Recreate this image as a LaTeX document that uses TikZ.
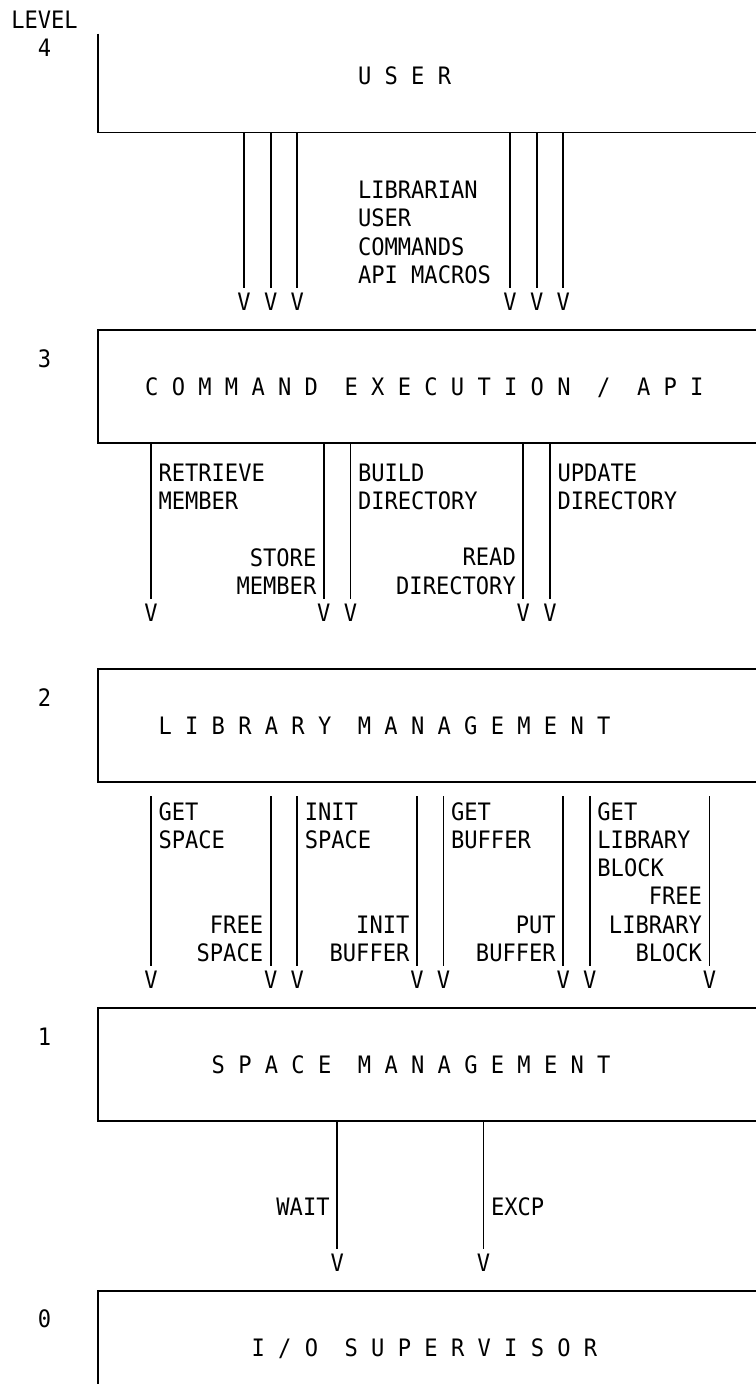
\documentclass[tikz,border=0pt]{standalone}
\usepackage{fontspec}
\setmonofont{DejaVu Sans Mono}[FakeStretch=0.92]
\usepackage{tikz}

\tikzset{
    lvl/.style={inner sep=0pt, anchor=base},
    boxtitle/.style={inner sep=0pt, anchor=base west},
    lbl/.style={inner sep=0pt, align=left, anchor=north west},
    rlbl/.style={inner sep=0pt, align=right, anchor=north east},
    vtip/.style={inner sep=0pt, outer sep=2.6pt, anchor=base},
}

\begin{document}
\begin{tikzpicture}[x=6.65pt, y=-14.125pt, line width=0.9pt,
    font=\ttfamily\fontsize{12pt}{14.125pt}\selectfont]
    \useasboundingbox (-0.35,-0.69) rectangle (56.49,48.3);

    % level numbers
    \node[lvl] (level) at (3,0.31) {LEVEL};
    \node[lvl] (lvl4) at (3,1.31) {4};
    \node[lvl] (lvl3) at (3,12.31) {3};
    \node[lvl] (lvl2) at (3,24.31) {2};
    \node[lvl] (lvl1) at (3,36.31) {1};
    \node[lvl] (lvl0) at (3,46.31) {0};

    % level 4
    \draw (7,0.5) |- (56.49,4);
    \node[boxtitle] (user) at (26.5,2.31) {U S E R};
    \coordinate (b4) at (7,4);
    \foreach \n/\c in {u1/18,u2/20,u3/22,u4/38,u5/40,u6/42} {
        \node[vtip] (\n) at (\c,10.31) {V};
        \draw (b4 -| \n) -- (\n);
    }
    \node[lbl] (librarian) at (26.5,5.69) {LIBRARIAN\\USER\\COMMANDS\\API MACROS};

    % level 3
    \draw (56.49,11) -| (7,15) -- (56.49,15);
    \node[boxtitle] (cmd) at (10.5,13.31)
        {C O M M A N D~~E X E C U T I O N~~/~~A P I};
    \coordinate (b3) at (7,15);
    \foreach \n/\c in {c1/11,c2/24,c3/26,c4/39,c5/41} {
        \node[vtip] (\n) at (\c,21.31) {V};
        \draw (b3 -| \n) -- (\n);
    }
    \node[lbl] (retrieve) at (11.5,15.69) {RETRIEVE\\MEMBER};
    \node[rlbl] (store) at (23.5,18.69) {STORE\\MEMBER};
    \node[lbl] (build) at (26.5,15.69) {BUILD\\DIRECTORY};
    \node[rlbl] (read) at (38.5,18.69) {READ\\DIRECTORY};
    \node[lbl] (update) at (41.5,15.69) {UPDATE\\DIRECTORY};

    % level 2
    \draw (56.49,23) -| (7,27) -- (56.49,27);
    \node[boxtitle] (lib) at (11.5,25.31)
        {L I B R A R Y~~M A N A G E M E N T};
    \coordinate (t2) at (7,27.5);
    \foreach \n/\c in {l1/11,l2/20,l3/22,l4/31,l5/33,l6/42,l7/44,l8/53} {
        \node[vtip] (\n) at (\c,34.31) {V};
        \draw (t2 -| \n) -- (\n);
    }
    \node[lbl] (getspace) at (11.5,27.69) {GET\\SPACE};
    \node[rlbl] (freespace) at (19.5,31.69) {FREE\\SPACE};
    \node[lbl] (initspace) at (22.5,27.69) {INIT\\SPACE};
    \node[rlbl] (initbuf) at (30.5,31.69) {INIT\\BUFFER};
    \node[lbl] (getbuf) at (33.5,27.69) {GET\\BUFFER};
    \node[rlbl] (putbuf) at (41.5,31.69) {PUT\\BUFFER};
    \node[lbl] (getblock) at (44.5,27.69) {GET\\LIBRARY\\BLOCK};
    \node[rlbl] (freeblock) at (52.5,30.69) {FREE\\LIBRARY\\BLOCK};

    % level 1
    \draw (56.49,35) -| (7,39) -- (56.49,39);
    \node[boxtitle] (spc) at (15.5,37.31)
        {S P A C E~~M A N A G E M E N T};
    \coordinate (b1) at (7,39);
    \foreach \n/\c in {s1/25,s2/36} {
        \node[vtip] (\n) at (\c,44.31) {V};
        \draw (b1 -| \n) -- (\n);
    }
    \node[rlbl] (wait) at (24.5,41.69) {WAIT};
    \node[lbl] (excp) at (36.5,41.69) {EXCP};

    % level 0
    \draw (56.49,45) -| (7,48.3);
    \node[boxtitle] (io) at (18.5,47.31) {I / O~~S U P E R V I S O R};
\end{tikzpicture}
\end{document}
